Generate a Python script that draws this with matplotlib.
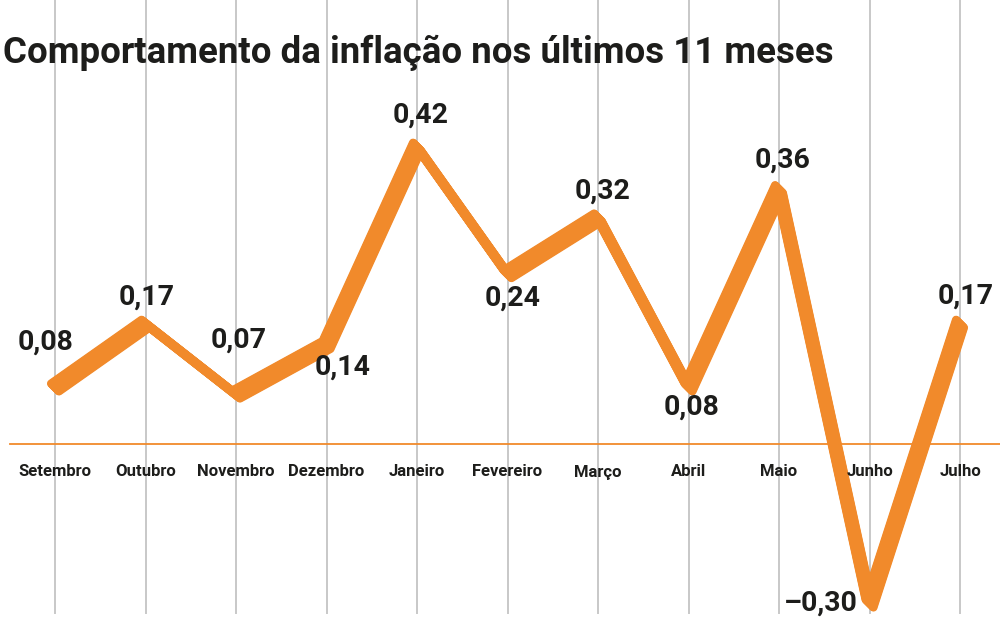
import numpy as np
import matplotlib
matplotlib.use('Agg')
import matplotlib.pyplot as plt
from matplotlib.transforms import ScaledTranslation, blended_transform_factory

# Data
months = ['Setembro', 'Outubro', 'Novembro', 'Dezembro', 'Janeiro', 'Fevereiro',
          'Março', 'Abril', 'Maio', 'Junho', 'Julho']
inflation = [0.08, 0.17, 0.07, 0.14, 0.42, 0.24, 0.32, 0.08, 0.36, -0.30, 0.17]
title = 'Comportamento da inflação nos últimos 11 meses'

# label offsets (pixels) relative to each point
label_dx = [-9, 1, 3, 16, 4, 5, 5, 3, 4, -12, 6]
label_dy = [45, 27, 54, -22, 31, -24, 26, -20, 29, 0, 28]

orange = '#f18a2b'
dark = '#1d1d1b'
grid = '#c8c8c8'
font = 'Roboto'

# negative side is drawn compressed in the original graphic
neg_k = 0.75
def fwd(v):
    v = np.asarray(v, dtype=float)
    return np.where(v < 0, v * neg_k, v)

def inv(v):
    v = np.asarray(v, dtype=float)
    return np.where(v < 0, v / neg_k, v)

fig = plt.figure(figsize=(10, 6.2), dpi=100)
ax = fig.add_axes([0, 0, 1, 1])
ax.set_yscale('function', functions=(fwd, inv))
ax.set_xlim(-0.608, 10.442)
ax.set_ylim(-0.331, 0.627)
ax.axis('off')

x = np.arange(len(months))

# vertical guides and zero line
for xi in x:
    ax.axvline(xi, ymin=0.011, ymax=1, color=grid, lw=1.4, zorder=1)
ax.axhline(0, xmin=0.01, xmax=1, color=orange, lw=1.3, zorder=2)

# ribbon: sweep the line along a slanted "nib"
nib_px = 8
for t in np.linspace(-0.5, 0.5, 21):
    shift = ScaledTranslation(t * nib_px / 100, -t * nib_px / 100, fig.dpi_scale_trans)
    ax.plot(x, inflation, color=orange, lw=5.8, solid_joinstyle='round',
            solid_capstyle='round', transform=ax.transData + shift, zorder=3)

# value labels
for xi, v, dx, dy in zip(x, inflation, label_dx, label_dy):
    txt = f'{v:.2f}'.replace('.', ',').replace('-', '–')
    ha = 'right' if v < 0 else 'center'
    ax.annotate(txt, (xi, v), xytext=(dx, dy), textcoords='offset pixels',
                ha=ha, va='center', fontsize=20.5, fontweight='bold',
                family=font, color=dark, zorder=5)

# month labels
trans = blended_transform_factory(ax.transData, ax.transAxes)
for xi, m in zip(x, months):
    ax.text(xi, 1 - 472 / 620, m, transform=trans, ha='center', va='center',
            fontsize=12, fontweight='bold', family=font, color=dark, zorder=5)

# title, fitted to the original width
t = fig.text(0.003, 1 - 63 / 620, title, fontsize=30, fontweight='bold',
             family=font, color=dark, va='baseline', ha='left')
fig.canvas.draw()
w = t.get_window_extent().width
t.set_fontsize(30 * 830 / w)

fig.savefig('out.png', dpi=100)
